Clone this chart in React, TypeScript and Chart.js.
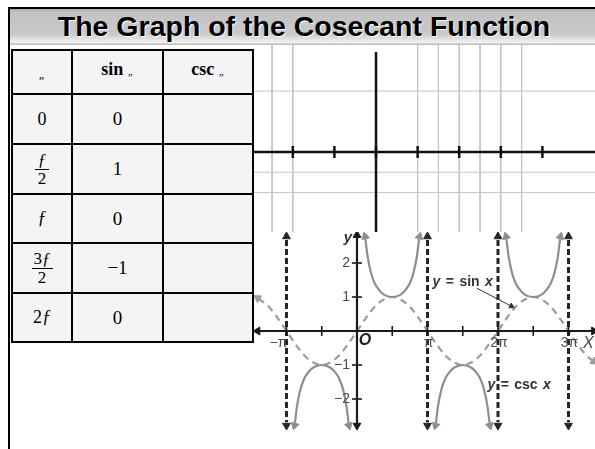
import React, { useEffect, useRef } from 'react';
import { Chart, registerables } from 'chart.js';

Chart.register(...registerables);

// ---------- Upper decorative axis panel ----------
const gridLinesX = [-2.5, -2, 1, 1.5, 2, 2.5, 3, 3.5];
const gridLinesY = [3, -1, -2];
const panelTickMarks = [-2, -1, 0, 1, 2, 3, 4];

// ---------- Cosecant graph (x in multiples of π) ----------
const sinX = [-1.4, -1.375, -1.25, -1.125, -1, -0.875, -0.75, -0.625, -0.5, -0.375, -0.25, -0.125, 0, 0.125, 0.25, 0.375, 0.5, 0.625, 0.75, 0.875, 1, 1.125, 1.25, 1.375, 1.5, 1.625, 1.75, 1.875, 2, 2.125, 2.25, 2.375, 2.5, 2.625, 2.75, 2.875, 3, 3.125, 3.25, 3.34];
const sinY = [0.95, 0.92, 0.71, 0.38, 0, -0.38, -0.71, -0.92, -1, -0.92, -0.71, -0.38, 0, 0.38, 0.71, 0.92, 1, 0.92, 0.71, 0.38, 0, -0.38, -0.71, -0.92, -1, -0.92, -0.71, -0.38, 0, 0.38, 0.71, 0.92, 1, 0.92, 0.71, 0.38, 0, -0.38, -0.71, -0.87];

const cscBranch1X = [-0.88, -0.85, -0.8, -0.75, -0.7, -0.625, -0.5, -0.375, -0.3, -0.25, -0.2, -0.15, -0.12];
const cscBranch1Y = [-2.7, -2.2, -1.7, -1.41, -1.24, -1.08, -1, -1.08, -1.24, -1.41, -1.7, -2.2, -2.7];
const cscBranch2X = [0.12, 0.15, 0.2, 0.25, 0.3, 0.375, 0.5, 0.625, 0.7, 0.75, 0.8, 0.85, 0.88];
const cscBranch2Y = [2.7, 2.2, 1.7, 1.41, 1.24, 1.08, 1, 1.08, 1.24, 1.41, 1.7, 2.2, 2.7];
const cscBranch3X = [1.12, 1.15, 1.2, 1.25, 1.3, 1.375, 1.5, 1.625, 1.7, 1.75, 1.8, 1.85, 1.88];
const cscBranch3Y = [-2.7, -2.2, -1.7, -1.41, -1.24, -1.08, -1, -1.08, -1.24, -1.41, -1.7, -2.2, -2.7];
const cscBranch4X = [2.12, 2.15, 2.2, 2.25, 2.3, 2.375, 2.5, 2.625, 2.7, 2.75, 2.8, 2.85, 2.88];
const cscBranch4Y = [2.7, 2.2, 1.7, 1.41, 1.24, 1.08, 1, 1.08, 1.24, 1.41, 1.7, 2.2, 2.7];

const cscArrowX = [-0.885, -0.115, 0.115, 0.885, 1.115, 1.885, 2.115, 2.885];
const cscArrowY = [-2.78, -2.78, 2.78, 2.78, -2.78, -2.78, 2.78, 2.78];
const cscArrowRot = [195, 165, -15, 15, 195, 165, -15, 15];

const sinArrowX = [-1.41, 3.36];
const sinArrowY = [0.97, -0.9];
const sinArrowRot = [-58, 125];

const asymptoteX = [-1, 1, 2, 3];
const asymptoteTop = 2.68;
const asymptoteBottom = -2.68;

const xAxisFrom = -1.41;
const xAxisTo = 3.36;
const yAxisFrom = -2.78;
const yAxisTo = 2.82;

const xTickMarks = [-1, -0.5, 0.5, 1, 1.5, 2, 2.5, 3];
const yTickMarks = [-2, -1, 1, 2];
const xTickValues = [-1, 1, 2, 3];
const xTickLabels = ['−π', 'π', '2π', '3π'];
const yTickValues = [2, 1, -1, -2];
const yTickLabels = ['2', '1', '−1', '−2'];

const curveLabels = ['y = sin x', 'y = csc x'];
const curveLabelX = [1.5, 2.3];
const curveLabelY = [1.44, -1.59];
const leaderX = [1.7, 2.19];
const leaderY = [1.26, 0.73];

const axisNames = ['y', 'O', 'X'];
const axisNameX = [-0.13, 0.113, 3.28];
const axisNameY = [2.74, -0.29, -0.38];

// ---------- Table ----------
const tableHeader = ['„', 'sin „', 'csc „'];
const thetaColumn = ['0', 'ƒ/2', 'ƒ', '3ƒ/2', '2ƒ'];
const sinColumn = ['0', '1', '0', '−1', '0'];
const cscColumn = ['', '', '', '', ''];

const pts = (xs: number[], ys: number[]) => xs.map((x, i) => ({ x, y: ys[i] }));

const SANS = '"Liberation Sans", Arial, sans-serif';

function lineDs(data: any[], color: string, width: number, dash: number[] = [], order = 0, extra: any = {}) {
  return {
    data,
    borderColor: color,
    borderWidth: width,
    borderDash: dash,
    pointRadius: 0,
    fill: false,
    showLine: true,
    tension: 0,
    order,
    clip: false,
    ...extra,
  };
}

function markDs(data: any[], color: string, style: string, radius: number, rot: number | number[], width = 1, order = 0) {
  return {
    data,
    showLine: false,
    pointStyle: style,
    pointRadius: radius,
    pointRotation: rot,
    pointBackgroundColor: color,
    pointBorderColor: color,
    pointBorderWidth: width,
    order,
    clip: false,
  };
}

function drawRich(ctx: CanvasRenderingContext2D, text: string, cx: number, cy: number, size: number, color: string) {
  const words = text.split(' ');
  const fontFor = (w: string) => (w === 'x' || w === 'y' ? `italic bold ${size}px ${SANS}` : `bold ${size}px ${SANS}`);
  ctx.save();
  ctx.fillStyle = color;
  ctx.textBaseline = 'middle';
  ctx.textAlign = 'left';
  ctx.font = `bold ${size}px ${SANS}`;
  const sp = ctx.measureText(' ').width * 1.4;
  let total = 0;
  const widths = words.map((w) => {
    ctx.font = fontFor(w);
    const m = ctx.measureText(w).width;
    total += m;
    return m;
  });
  total += sp * (words.length - 1);
  let x = cx - total / 2;
  words.forEach((w, i) => {
    ctx.font = fontFor(w);
    ctx.fillText(w, x, cy);
    x += widths[i] + sp;
  });
  ctx.restore();
}

const labelPlugin = {
  id: 'cscLabels',
  afterDatasetsDraw(chart: any) {
    const { ctx, scales } = chart;
    const X = (v: number) => scales.x.getPixelForValue(v);
    const Y = (v: number) => scales.y.getPixelForValue(v);
    ctx.save();
    ctx.fillStyle = '#4a4a4a';
    ctx.font = `14px ${SANS}`;
    ctx.textBaseline = 'middle';
    xTickValues.forEach((v, i) => {
      ctx.textAlign = v < 0 ? 'right' : 'center';
      ctx.fillText(xTickLabels[i], X(v) + 1, Y(0) + 12);
    });
    ctx.textAlign = 'right';
    yTickValues.forEach((v, i) => {
      ctx.fillText(yTickLabels[i], X(0) - 7, Y(v));
    });
    // axis names
    ctx.textAlign = 'center';
    ctx.fillStyle = '#333';
    ctx.font = `italic bold 15px ${SANS}`;
    ctx.fillText(axisNames[0], X(axisNameX[0]), Y(axisNameY[0]));
    ctx.fillStyle = '#222';
    ctx.font = `italic bold 16px ${SANS}`;
    ctx.fillText(axisNames[1], X(axisNameX[1]), Y(axisNameY[1]));
    ctx.fillStyle = '#444';
    ctx.font = `italic 16px ${SANS}`;
    ctx.fillText(axisNames[2], X(axisNameX[2]), Y(axisNameY[2]));
    ctx.restore();
    curveLabels.forEach((t, i) => drawRich(ctx, t, X(curveLabelX[i]), Y(curveLabelY[i]), 14, '#333'));
  },
};

const baseOptions = (xMin: number, xMax: number, yMin: number, yMax: number): any => ({
  animation: false,
  responsive: false,
  events: [],
  layout: { padding: 0, autoPadding: false },
  plugins: { legend: { display: false }, tooltip: { enabled: false } },
  scales: {
    x: { type: 'linear', min: xMin, max: xMax, display: false },
    y: { type: 'linear', min: yMin, max: yMax, display: false },
  },
});

function panelConfig(): any {
  const yMin = -4.04;
  const yMax = 5.27;
  const xMin = -2.981;
  const xMax = 5.264;
  const datasets: any[] = [];
  datasets.push(lineDs(pts([xMin, xMax], [0, 0]), '#111', 2.5, [], 0));
  datasets.push(lineDs(pts([0, 0], [4.93, yMin]), '#111', 2.5, [], 0));
  datasets.push(markDs(pts(panelTickMarks, panelTickMarks.map(() => 0)), '#111', 'line', 6, 90, 2.5, 0));
  gridLinesX.forEach((v) => datasets.push(lineDs(pts([v, v], [yMax, yMin]), '#c4c4c4', 1, [], 5)));
  gridLinesY.forEach((v) => datasets.push(lineDs(pts([xMin, xMax], [v, v]), '#c4c4c4', 1, [], 5)));
  return {
    type: 'line',
    data: { datasets },
    options: baseOptions(xMin, xMax, yMin, yMax),
  };
}

function graphConfig(): any {
  const datasets: any[] = [];
  // axes
  datasets.push(lineDs(pts([xAxisFrom, xAxisTo], [0, 0]), '#1a1a1a', 2.2, [], 0));
  datasets.push(lineDs(pts([0, 0], [yAxisTo, yAxisFrom]), '#1a1a1a', 2.2, [], 0));
  datasets.push(markDs(pts([xAxisFrom, xAxisTo], [0, 0]), '#1a1a1a', 'triangle', 4.5, [-90, 90], 1, 0));
  datasets.push(markDs(pts([0, 0], [yAxisTo, yAxisFrom]), '#1a1a1a', 'triangle', 4.5, [0, 180], 1, 0));
  datasets.push(markDs(pts(xTickMarks, xTickMarks.map(() => 0)), '#1a1a1a', 'line', 5, 90, 1.6, 0));
  datasets.push(markDs(pts(yTickMarks.map(() => 0), yTickMarks), '#1a1a1a', 'line', 5, 0, 1.6, 0));
  // asymptotes
  asymptoteX.forEach((v) => {
    datasets.push(lineDs(pts([v, v], [asymptoteTop, asymptoteBottom]), '#262626', 3, [6, 3], 1));
  });
  datasets.push(
    markDs(
      pts(asymptoteX.concat(asymptoteX), asymptoteX.map(() => asymptoteTop + 0.1).concat(asymptoteX.map(() => asymptoteBottom - 0.1))),
      '#262626', 'triangle', 4.5, asymptoteX.map(() => 0).concat(asymptoteX.map(() => 180)), 1, 1,
    ),
  );
  // csc
  const cscColor = '#8e8e8e';
  [
    [cscBranch1X, cscBranch1Y],
    [cscBranch2X, cscBranch2Y],
    [cscBranch3X, cscBranch3Y],
    [cscBranch4X, cscBranch4Y],
  ].forEach(([xs, ys]) => {
    datasets.push(lineDs(pts(xs, ys), cscColor, 2.2, [], 2, { cubicInterpolationMode: 'monotone' }));
  });
  datasets.push(markDs(pts(cscArrowX, cscArrowY), cscColor, 'triangle', 4.5, cscArrowRot, 1, 2));
  // sin
  const sinColor = '#9c9c9c';
  datasets.push(lineDs(pts(sinX, sinY), sinColor, 2.2, [7, 5], 3, { cubicInterpolationMode: 'monotone' }));
  datasets.push(markDs(pts(sinArrowX, sinArrowY), sinColor, 'triangle', 4.5, sinArrowRot, 1, 3));
  // leader arrow for label
  datasets.push(lineDs(pts(leaderX, leaderY), '#333', 1, [], 0));
  datasets.push(markDs(pts([leaderX[1]], [leaderY[1]]), '#333', 'triangle', 3, 118, 1, 0));
  return {
    type: 'line',
    data: { datasets },
    options: baseOptions(-1.475, 3.376, -2.97, 2.912),
    plugins: [labelPlugin],
  };
}

function MathText({ text }: { text: string }) {
  const parts = text.split(/(ƒ)/).filter((p) => p !== '');
  return (
    <>
      {parts.map((p, i) =>
        p === 'ƒ' ? (
          <span key={i} style={{ fontStyle: 'italic' }}>
            ƒ
          </span>
        ) : (
          <span key={i}>{p}</span>
        ),
      )}
    </>
  );
}

function ThetaCell({ text }: { text: string }) {
  if (text.includes('/')) {
    const [num, den] = text.split('/');
    return (
      <span style={{ display: 'inline-flex', flexDirection: 'column', alignItems: 'center', fontSize: 17, lineHeight: '18px' }}>
        <span style={{ padding: '0 2px' }}>
          <MathText text={num} />
        </span>
        <span style={{ borderTop: '1.5px solid #000', padding: '0 3px', alignSelf: 'stretch', textAlign: 'center' }}>{den}</span>
      </span>
    );
  }
  return (
    <span style={{ fontSize: 18 }}>
      <MathText text={text} />
    </span>
  );
}

function HeaderCell({ text }: { text: string }) {
  const [name] = text.split('„');
  return (
    <span style={{ fontWeight: 'bold', fontSize: 18, marginTop: -6 }}>
      {name}
      <span style={{ fontStyle: 'italic', fontSize: 11, fontWeight: 'normal' }}>„</span>
    </span>
  );
}

export default function App() {
  const panelRef = useRef<HTMLCanvasElement>(null);
  const graphRef = useRef<HTMLCanvasElement>(null);

  useEffect(() => {
    const panel = new Chart(panelRef.current as HTMLCanvasElement, panelConfig());
    const graph = new Chart(graphRef.current as HTMLCanvasElement, graphConfig());
    return () => {
      panel.destroy();
      graph.destroy();
    };
  }, []);

  const cell: React.CSSProperties = {
    background: '#f4f4f4',
    display: 'flex',
    alignItems: 'center',
    justifyContent: 'center',
    fontFamily: '"Liberation Serif", "Times New Roman", serif',
    fontSize: 19,
    color: '#000',
  };

  return (
    <div style={{ position: 'fixed', left: 0, top: 0, width: 595, height: 449, background: '#fff', overflow: 'hidden' }}>
      <canvas ref={panelRef} width={343} height={189} style={{ position: 'absolute', left: 252, top: 45, width: 343, height: 189 }} />
      <canvas ref={graphRef} width={342} height={200} style={{ position: 'absolute', left: 253, top: 232, width: 342, height: 200, background: '#fff' }} />
      {/* title bar */}
      <div
        style={{
          position: 'absolute',
          left: 8,
          top: 7,
          width: 600,
          height: 38,
          boxSizing: 'border-box',
          borderTop: '2px solid #000',
          borderLeft: '2px solid #000',
          background: 'linear-gradient(to bottom, #a9a9a9 0%, #c2c2c2 8%, #cacaca 70%, #e6e6e6 86%, #f2f2f2 92%, #b5b5b5 100%)',
        }}
      />
      <div
        style={{
          position: 'absolute',
          left: 9,
          top: 11,
          width: 590,
          textAlign: 'center',
          fontFamily: SANS,
          fontWeight: 'bold',
          fontSize: 28.5,
          lineHeight: '31px',
          color: '#000',
          textShadow: '1px 1px 1px #fff',
          whiteSpace: 'nowrap',
        }}
      >
        The Graph of the Cosecant Function
      </div>
      {/* left frame line */}
      <div style={{ position: 'absolute', left: 8, top: 7, width: 2, height: 442, background: '#000' }} />
      {/* table */}
      <div
        style={{
          position: 'absolute',
          left: 11,
          top: 49,
          display: 'grid',
          gridTemplateColumns: '58px 89px 88px',
          gridTemplateRows: '42px 48px 48px 47px 48px 47px',
          gap: 2,
          padding: 2,
          background: '#000',
        }}
      >
        <div style={cell}>
          <span style={{ fontStyle: 'italic', fontSize: 12, marginTop: 4 }}>{tableHeader[0]}</span>
        </div>
        <div style={cell}>
          <HeaderCell text={tableHeader[1]} />
        </div>
        <div style={cell}>
          <HeaderCell text={tableHeader[2]} />
        </div>
        {thetaColumn.map((t, i) => (
          <React.Fragment key={i}>
            <div style={cell}>
              <ThetaCell text={t} />
            </div>
            <div style={cell}>{sinColumn[i]}</div>
            <div style={cell}>{cscColumn[i]}</div>
          </React.Fragment>
        ))}
      </div>
    </div>
  );
}
